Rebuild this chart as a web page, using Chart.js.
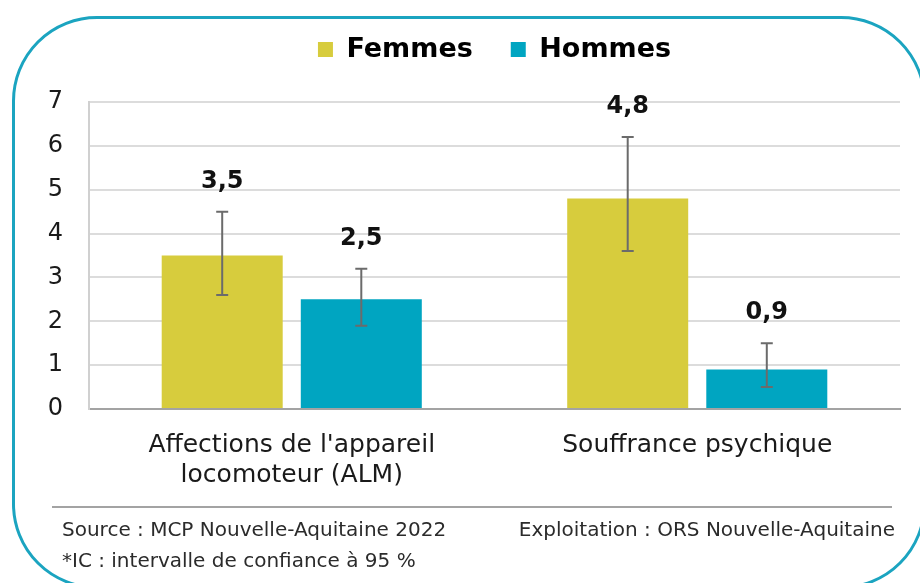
<!DOCTYPE html>
<html lang="fr">
<head>
<meta charset="utf-8">
<script src="https://cdn.jsdelivr.net/npm/chart.js@4"></script>
<style>
  body { margin: 0; background: #fff; }
  #wrap { position: relative; width: 920px; height: 583px; overflow: hidden; font-family: "DejaVu Sans", sans-serif; }
  #frame { position: absolute; left: 12px; top: 16px; width: 914px; height: 573px; box-sizing: border-box;
           border: 3px solid #1ba4c0; border-radius: 85px; }
  canvas { position: absolute; left: 0; top: 0; }
  .rule { position: absolute; left: 52px; top: 506px; width: 840px; height: 2px; background: #a3a3a3; }
  .note { position: absolute; font-size: 20px; line-height: 24px; color: #2b2b2b; white-space: nowrap; }
</style>
</head>
<body>
<div id="wrap">
  <div id="frame"></div>
  <canvas id="chart" width="920" height="583"></canvas>
  <div class="rule"></div>
  <div class="note" style="left:62px; top:517px;">Source : MCP Nouvelle-Aquitaine 2022</div>
  <div class="note" style="right:25px; top:517px;">Exploitation : ORS Nouvelle-Aquitaine</div>
  <div class="note" style="left:62px; top:548px;">*IC : intervalle de confiance à 95 %</div>
</div>
<script>
// * Data
const categories = [["Affections de l'appareil", "locomoteur (ALM)"], "Souffrance psychique"];
const femmes = [3.5, 4.8];
const hommes = [2.5, 0.9];
const femmesLow = [2.6, 3.6];
const femmesHigh = [4.5, 6.2];
const hommesLow = [1.9, 0.5];
const hommesHigh = [3.2, 1.5];
const yMax = 7;
const yStep = 1;

const font = "DejaVu Sans";

// * Error bars + value labels
const errorBars = {
  id: "errorBars",
  afterDatasetsDraw(chart) {
    const ctx = chart.ctx;
    const y = chart.scales.y;
    chart.data.datasets.forEach((ds, i) => {
      const meta = chart.getDatasetMeta(i);
      meta.data.forEach((bar, j) => {
        const top = y.getPixelForValue(ds.high[j]);
        const bottom = y.getPixelForValue(ds.low[j]);
        ctx.save();
        ctx.strokeStyle = "#6b6b6b";
        ctx.lineWidth = 2;
        ctx.beginPath();
        ctx.moveTo(bar.x, top);
        ctx.lineTo(bar.x, bottom);
        ctx.moveTo(bar.x - 6, top);
        ctx.lineTo(bar.x + 6, top);
        ctx.moveTo(bar.x - 6, bottom);
        ctx.lineTo(bar.x + 6, bottom);
        ctx.stroke();

        ctx.fillStyle = "#111";
        ctx.font = "bold 24px '" + font + "'";
        ctx.textAlign = "center";
        ctx.textBaseline = "middle";
        ctx.fillText(String(ds.data[j]).replace(".", ","), bar.x, top - 30);
        ctx.restore();
      });
    });
  },
};

var cc = document.getElementById("chart").getContext("2d");

var barChart = new Chart(cc, {
  type: "bar",
  data: {
    labels: categories,
    datasets: [
      { label: "Femmes", data: femmes, low: femmesLow, high: femmesHigh, backgroundColor: "#d7cc3d" },
      { label: "Hommes", data: hommes, low: hommesLow, high: hommesHigh, backgroundColor: "#00a5c1" },
    ],
  },
  options: {
    responsive: false,
    animation: false,
    categoryPercentage: 0.686,
    barPercentage: 0.87,
    layout: { padding: { left: 0, right: 20, top: -2, bottom: 0 } },
    plugins: {
      tooltip: { enabled: false },
      legend: {
        position: "top",
        fullSize: false,
        labels: {
          boxWidth: 15,
          boxHeight: 15,
          padding: 38,
          color: "#000",
          font: { family: font, size: 27, weight: "bold" },
        },
      },
      // empty spacer between legend and plot
      title: {
        display: true,
        text: "",
        weight: 500,
        font: { size: 10, lineHeight: 1 },
        padding: { top: 0, bottom: 19 },
      },
    },
    scales: {
      x: {
        grid: { display: false },
        border: { color: "#a3a3a3", width: 2 },
        ticks: {
          color: "#1a1a1a",
          padding: 13,
          maxRotation: 0,
          font: { family: font, size: 25, lineHeight: 1.2 },
        },
        afterFit: (scale) => { scale.height = 174; },
      },
      y: {
        min: 0,
        max: yMax,
        grid: {
          drawTicks: false,
          lineWidth: 2,
          color: (c) => (c.tick && c.tick.value === 0 ? "#a3a3a3" : "#dcdcdc"),
        },
        border: { color: "#d0d0d0", width: 2 },
        ticks: {
          stepSize: yStep,
          padding: 26,
          color: "#1a1a1a",
          font: { family: font, size: 24 },
        },
        afterFit: (scale) => { scale.width = 89; },
      },
    },
  },
  plugins: [errorBars],
});
</script>
</body>
</html>
